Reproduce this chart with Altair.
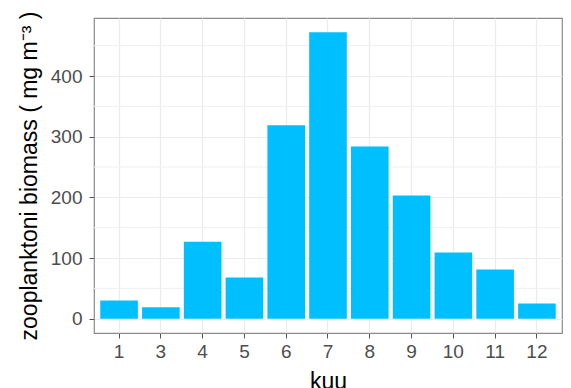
import altair as alt
import pandas as pd

months = ["1", "3", "4", "5", "6", "7", "8", "9", "10", "11", "12"]
biomass = [30, 19, 127, 68, 319, 472, 284, 203, 109, 81, 25]
major_ticks = [0, 100, 200, 300, 400]
minor_grid = [50, 150, 250, 350, 450]

df = pd.DataFrame({"kuu": months, "biomass": biomass})
grid_df = pd.DataFrame({"g": minor_grid})

FONT = "Liberation Sans"
y_scale = alt.Scale(domain=[-23.6, 495.6], nice=False, zero=False)
x_scale = alt.Scale(domain=months, paddingInner=0.1, paddingOuter=0.15)

common = dict(
    grid=True,
    gridColor="#EBEBEB",
    gridWidth=1.2,
    domain=False,
    tickColor="#555555",
    tickSize=5,
    labelFontSize=19,
    labelColor="#4D4D4D",
    labelFont=FONT,
    titleFont=FONT,
    titleFontSize=23,
    titleFontWeight="normal",
    titleColor="#000000",
)

y_axis = alt.Axis(
    title="zooplanktoni biomass ( mg m⁻³ )",
    values=major_ticks,
    labelPadding=7,
    titlePadding=9,
    **common,
)

x_axis = alt.Axis(
    title="kuu",
    bandPosition=0.5,
    tickBand="center",
    labelAngle=0,
    labelPadding=4,
    titlePadding=9,
    **common,
)

minor = alt.Chart(grid_df).mark_rule(color="#EFEFEF", strokeWidth=1).encode(
    y=alt.Y("g:Q", scale=y_scale, axis=y_axis)
)

bars = alt.Chart(df).mark_bar(color="#00BFFF").encode(
    x=alt.X("kuu:N", scale=x_scale, sort=months, axis=x_axis),
    y=alt.Y("biomass:Q", scale=y_scale, axis=y_axis),
)

chart = (
    alt.layer(minor, bars)
    .properties(
        width=468,
        height=315,
        autosize=alt.AutoSizeParams(type="none"),
        padding={"left": 86, "top": 10, "right": 1, "bottom": 55},
        background="white",
    )
    .configure_view(stroke="#8A8A8A", strokeWidth=1.2)
)

chart.save("out.html", embed_options={"renderer": "svg", "actions": False})
